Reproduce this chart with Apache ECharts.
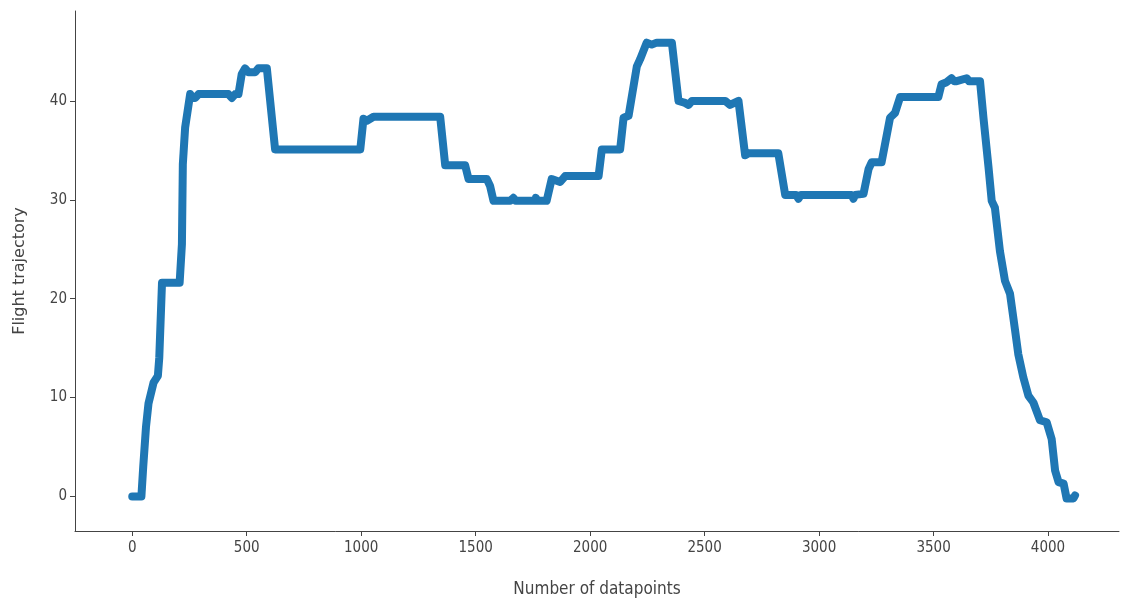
<!DOCTYPE html>
<html>
<head>
<meta charset="utf-8">
<script src="https://cdn.jsdelivr.net/npm/echarts@6/dist/echarts.min.js"></script>
<style>html,body{margin:0;padding:0;background:#fff;}#c{width:1124px;height:599px;}</style>
</head>
<body>
<div id="c"></div>
<script>
var xs = [0,40,48,60,71,93,112,118,130,207,217,221,231,253,265,275,290,420,435,450,464,478,493,508,537,551,588,624,996,1010,1025,1054,1345,1367,1454,1469,1549,1563,1578,1651,1665,1675,1760,1763,1770,1810,1832,1840,1869,1891,2037,2051,2131,2146,2168,2204,2218,2247,2269,2291,2357,2386,2415,2430,2445,2590,2611,2648,2677,2692,2822,2852,2900,2910,2920,3143,3150,3157,3194,3216,3230,3273,3310,3332,3354,3521,3535,3557,3579,3590,3601,3645,3655,3703,3718,3740,3754,3768,3790,3812,3834,3856,3870,3892,3914,3936,3965,3994,4016,4031,4046,4068,4081,4111,4118];
var ys = [0,0,3,7,9.4,11.5,12.2,14,21.6,21.6,25.5,33.6,37.3,40.7,40.3,40.3,40.7,40.7,40.3,40.7,40.7,42.7,43.3,42.9,42.9,43.3,43.3,35.1,35.1,38.2,38.0,38.4,38.4,33.5,33.5,32.1,32.1,31.4,29.9,29.9,30.2,29.9,29.9,30.2,29.9,29.9,32.1,32.3,31.8,32.4,32.4,35.1,35.1,38.3,38.5,43.5,44.2,45.9,45.7,45.9,45.9,40.0,39.8,39.6,40.0,40.0,39.6,40.0,34.5,34.7,34.7,30.5,30.5,30.1,30.5,30.5,30.1,30.5,30.6,33.1,33.8,33.8,38.3,38.8,40.4,40.4,41.7,41.9,42.3,42.0,42.0,42.3,42.0,42.0,38.3,33.3,29.9,29.2,24.8,21.8,20.5,16.8,14.4,12.05,10.2,9.5,7.7,7.5,5.8,2.6,1.45,1.3,-0.2,-0.2,0.1];
var xTicks = [0,500,1000,1500,2000,2500,3000,3500,4000];
var yTicks = [0,10,20,30,40];

var pts = xs.map(function(x,i){return [x, ys[i]];});
var chart = echarts.init(document.getElementById('c'));
var axisCol = '#444';
var condensed = '"DejaVu Sans Condensed", "DejaVu Sans", sans-serif';
chart.setOption({
  animation: false,
  grid: {left: 75, right: 5, top: 11, bottom: 68, containLabel: false, outerBoundsMode: 'none'},
  xAxis: {
    type: 'value', min: -250, max: 4310,
    name: 'Number of datapoints', nameLocation: 'middle', nameGap: 50,
    nameTextStyle: {fontFamily: condensed, fontSize: 17, color: '#444'},
    axisLine: {show: true, onZero: false, lineStyle: {color: axisCol, width: 1}},
    axisTick: {show: true, length: 5, customValues: xTicks, lineStyle: {color: axisCol}},
    axisLabel: {customValues: xTicks, formatter: function(v){return String(v);}, fontFamily: condensed, fontSize: 15, color: '#444', margin: 10},
    splitLine: {show: false}
  },
  yAxis: {
    type: 'value', min: -3.5, max: 49.1,
    name: 'Flight trajectory', nameLocation: 'middle', nameGap: 47, nameRotate: 90,
    nameTextStyle: {fontFamily: '"DejaVu Sans", sans-serif', fontSize: 16, color: '#444'},
    axisLine: {show: true, onZero: false, lineStyle: {color: axisCol, width: 1}},
    axisTick: {show: true, length: 5, customValues: yTicks, lineStyle: {color: axisCol}},
    axisLabel: {customValues: yTicks, formatter: function(v){return String(v);}, fontFamily: condensed, fontSize: 15, color: '#444', margin: 8},
    splitLine: {show: false}
  },
  series: [{
    type: 'line', data: pts, showSymbol: false, symbol: 'none',
    lineStyle: {color: '#1f77b4', width: 8, cap: 'round', join: 'round'}
  }]
});
</script>
</body>
</html>
